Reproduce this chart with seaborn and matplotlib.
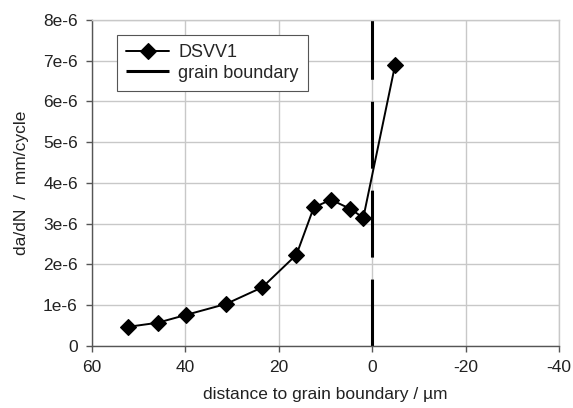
import matplotlib
matplotlib.use('Agg')
import matplotlib.pyplot as plt
import seaborn as sns

# crack growth rate vs distance to the grain boundary
distance = [52.2, 45.9, 39.9, 31.3, 23.5, 16.2, 12.5, 8.8, 4.8, 1.9, -4.9]
dadn = [0.47e-6, 0.57e-6, 0.76e-6, 1.03e-6, 1.44e-6, 2.24e-6, 3.40e-6, 3.59e-6, 3.37e-6, 3.15e-6, 6.90e-6]
boundary_pos = 0

x_ticks = [60, 40, 20, 0, -20, -40]
y_ticks = [0, 1e-6, 2e-6, 3e-6, 4e-6, 5e-6, 6e-6, 7e-6, 8e-6]
y_tick_labels = ['0', '1e-6', '2e-6', '3e-6', '4e-6', '5e-6', '6e-6', '7e-6', '8e-6']

sns.set_style('whitegrid')
plt.rcParams['font.family'] = ['Liberation Sans', 'DejaVu Sans']
plt.rcParams['font.size'] = 12.5

fig = plt.figure(figsize=(5.73, 4.08), dpi=100)
ax = fig.add_axes([0.160, 0.152, 0.816, 0.799])

sns.lineplot(x=distance, y=dadn, ax=ax, color='black', lw=1.4, marker='D',
             markersize=8.5, markeredgecolor='black', markeredgewidth=0.8,
             sort=False, label='DSVV1')
ax.axvline(boundary_pos, color='black', lw=2.2, linestyle=(0, (21.9, 7.2)),
           label='grain boundary')

ax.set_xlim(60, -40)
ax.set_ylim(0, 8e-6)
ax.set_xticks(x_ticks)
ax.set_xticklabels([str(t) for t in x_ticks])
ax.set_yticks(y_ticks)
ax.set_yticklabels(y_tick_labels)

ax.grid(True, color='#c8c8c8', lw=1.0)
for side in ['top', 'right']:
    ax.spines[side].set_color('#c8c8c8')
    ax.spines[side].set_linewidth(1.0)
for side in ['left', 'bottom']:
    ax.spines[side].set_color('#555555')
    ax.spines[side].set_linewidth(1.0)
ax.tick_params(axis='both', direction='out', length=4, width=1, color='#555555',
               labelcolor='#222222', labelsize=12.5, pad=6, left=True, bottom=True)

ax.set_xlabel('distance to grain boundary / µm', fontsize=12.5, color='#222222', labelpad=9)
ax.set_ylabel('da/dN  /  mm/cycle', fontsize=12.5, color='#222222', labelpad=10)

leg = ax.legend(loc='upper left', bbox_to_anchor=(0.054, 0.954), borderaxespad=0,
                fontsize=13, frameon=True, fancybox=False, framealpha=1,
                edgecolor='#555555', borderpad=0.5, labelspacing=0.2,
                handlelength=2.4, handletextpad=0.5)
leg.get_frame().set_linewidth(0.8)

fig.savefig('out.png', dpi=100)
